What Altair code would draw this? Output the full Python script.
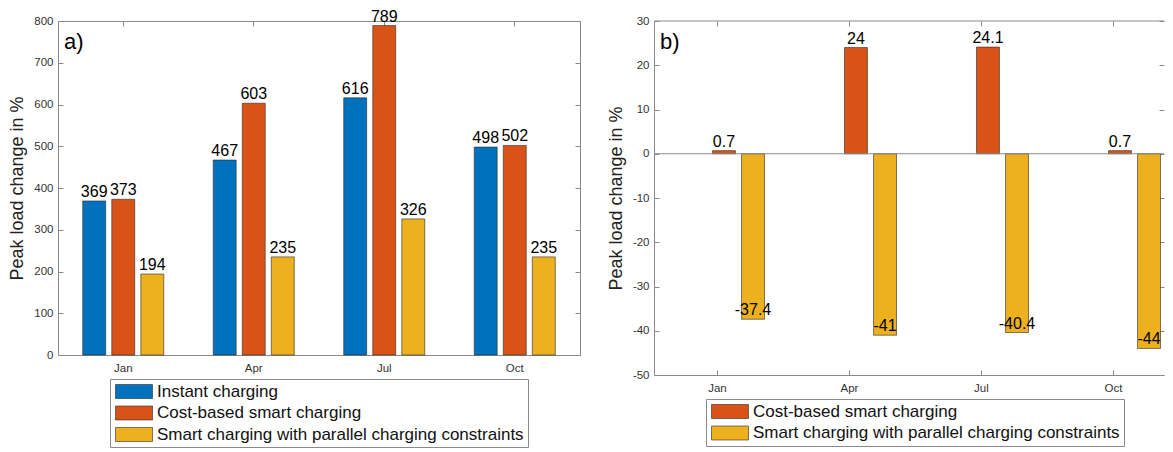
import altair as alt
import pandas as pd

months = ["Jan", "Apr", "Jul", "Oct"]
series_a = ["Instant charging", "Cost-based smart charging",
            "Smart charging with parallel charging constraints"]
instant = [369, 467, 616, 498]
cost_based = [373, 603, 789, 502]
parallel = [194, 235, 326, 235]
series_b = ["Cost-based smart charging",
            "Smart charging with parallel charging constraints"]
cost_change = [0.7, 24, 24.1, 0.7]
parallel_change = [-37.4, -41, -40.4, -44]
ticks_a = [0, 100, 200, 300, 400, 500, 600, 700, 800]
ticks_b = [-50, -40, -30, -20, -10, 0, 10, 20, 30]
colors_a = ["#0072BD", "#D95319", "#EDB120"]
colors_b = ["#D95319", "#EDB120"]


def long_table(series, columns):
    rows = []
    for s, vals in zip(series, columns):
        for m, v in zip(months, vals):
            rows.append({"month": m, "series": s, "value": v, "label": f"{v:g}"})
    return pd.DataFrame(rows)


df_a = long_table(series_a, [instant, cost_based, parallel])
df_b = long_table(series_b, [cost_change, parallel_change])

FONT = "Liberation Sans"
GRAY = "#8a8a8a"
TICK = 5


def panel(df, series, colors, ticks, W, H, pad_in, pad_out, align, legend_y,
          letter, open_right):
    x_scale = alt.Scale(paddingInner=pad_in, paddingOuter=pad_out, align=align)
    off_scale = alt.Scale(paddingInner=0.21, paddingOuter=0)
    y_scale = alt.Scale(domain=[ticks[0], ticks[-1]], nice=False, zero=False)

    def X(axis):
        return alt.X("month:N", sort=months, scale=x_scale, axis=axis)

    def Y(axis):
        return alt.Y("value:Q", scale=y_scale, axis=axis)

    off = alt.XOffset("series:N", sort=series, scale=off_scale)

    main_x = alt.Axis(orient="bottom", title=None, labelAngle=0, labelFont=FONT,
                      labelFontSize=11.5, labelColor="#333", labelPadding=7,
                      ticks=False, domain=open_right, domainColor=GRAY)
    main_y = alt.Axis(orient="left", values=ticks, labelExpr="'' + datum.value",
                      labelFont=FONT, labelFontSize=11.5, labelColor="#333",
                      labelPadding=5, ticks=False, domain=open_right,
                      domainColor=GRAY, grid=False,
                      title="Peak load change in %", titleFont=FONT,
                      titleFontSize=18, titleFontWeight="normal",
                      titleColor="#222", titlePadding=7)
    t1x = alt.Axis(orient="top", offset=-H, title=None, labels=False, domain=False,
                   tickSize=TICK, tickColor=GRAY, grid=False)
    t1y = alt.Axis(orient="right", offset=-W, values=ticks, title=None, labels=False,
                   domain=False, tickSize=TICK, tickColor=GRAY, grid=False)
    t2x = alt.Axis(orient="bottom", offset=-H, title=None, labels=False, domain=False,
                   tickSize=TICK, tickColor=GRAY, grid=False)
    t2y = alt.Axis(orient="left", offset=-W, values=ticks, title=None, labels=False,
                   domain=False, tickSize=TICK, tickColor=GRAY, grid=False)

    color = alt.Color(
        "series:N", sort=series,
        scale=alt.Scale(domain=series, range=colors),
        legend=alt.Legend(
            title=None, orient="none", legendX=52, legendY=legend_y,
            direction="vertical", symbolType="M-1,-1H4.286V1H-1Z",
            symbolSize=196, symbolStrokeColor="#2a2a2a", symbolStrokeWidth=0.6,
            labelFont=FONT, labelFontSize=17, labelColor="#111", labelOffset=26,
            labelLimit=0, strokeColor=GRAY, fillColor="white", padding=4,
            rowPadding=3.5,
        ),
    )

    base = alt.Chart(df)
    bars = base.mark_bar(stroke="#2a2a2a", strokeWidth=0.6).encode(
        x=X(main_x), xOffset=off, y=Y(main_y), color=color)
    text = base.mark_text(baseline="bottom", dy=-1, fontSize=16, font=FONT,
                          color="black").encode(
        x=X(t1x), xOffset=off, y=Y(t1y), text="label:N")
    ghost = base.mark_point(opacity=0).encode(x=X(t2x), xOffset=off, y=Y(t2y))
    frame_df = pd.DataFrame({"t": [letter]})
    let = alt.Chart(frame_df).mark_text(
        align="left", baseline="middle", fontSize=22, font=FONT, color="black"
    ).encode(x=alt.value(6), y=alt.value(21), text="t:N")

    layers = [bars]
    if open_right:
        # zero baseline and top frame line
        layers.append(alt.Chart(pd.DataFrame({"v": [0]})).mark_rule(
            color=GRAY, strokeWidth=1).encode(
            y=alt.Y("v:Q", scale=y_scale, axis=None)))
        layers.append(alt.Chart(frame_df).mark_rule(
            color=GRAY, strokeWidth=1).encode(y=alt.value(0)))
    layers += [text, ghost, let]
    out = alt.layer(*layers).resolve_axis(x="independent", y="independent").properties(
        width=W, height=H)
    if open_right:
        out = out.properties(view=alt.ViewBackground(stroke="transparent"))
    return out


pa = panel(df_a, series_a, colors_a, ticks_a, 522, 334, 0.379, 0.1895, 0.5, 358,
           "a)", False)
pb = panel(df_b, series_b, colors_b, ticks_b, 510, 354, 0.485, 0.1743, 0.64, 378,
           "b)", True)

chart = alt.hconcat(pa, pb, spacing=74, bounds="flush").resolve_scale(
    color="independent").configure_view(stroke=GRAY, strokeWidth=1).properties(
    padding={"left": 0, "top": 0, "right": 0, "bottom": 0})

chart.save("out.html", embed_options={"renderer": "svg", "actions": False})
